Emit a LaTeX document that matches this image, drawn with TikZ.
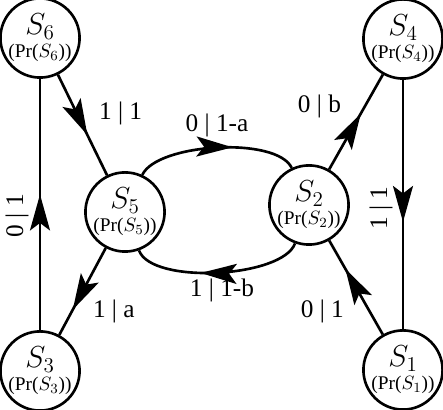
\documentclass[tikz,border=0pt]{standalone}
\usepackage{fontspec}
\setmainfont{Liberation Serif}
\usetikzlibrary{arrows.meta, decorations.markings}
\tikzset{
  state/.style={circle, draw, line width=1.5pt, minimum size=1.46cm,
    inner sep=0pt, align=center},
  trans/.style={line width=1.5pt, postaction={decorate},
    decoration={markings, mark=at position #1 with
      {\arrow{Stealth[length=0.72cm, width=0.4cm, inset=0.15cm]}}}},
  trans/.default=0.6,
  lbl/.style={font=\Large, inner sep=0pt}
}
\newcommand{\statetext}[1]{{\LARGE$S_{#1}$}\\[1pt]{\fontsize{11pt}{13pt}\selectfont(Pr($S_{#1}$))}}

\begin{document}
\begin{tikzpicture}
  \useasboundingbox (0,0) rectangle (8.86,8.2);
  % states
  \node[state] (s6) at (0.8,7.44) {\statetext{6}};
  \node[state] (s4) at (8.06,7.42) {\statetext{4}};
  \node[state] (s5) at (2.5,3.96) {\statetext{5}};
  \node[state] (s2) at (6.18,4.1) {\statetext{2}};
  \node[state] (s3) at (0.8,0.78) {\statetext{3}};
  \node[state] (s1) at (8.06,0.8) {\statetext{1}};
  % left side
  \draw[trans=0.6] (s6) -- node[lbl, pos=.39, xshift=0.87cm] {1 | 1} (s5);
  \draw[trans=0.71] (s5) -- node[lbl, pos=.73, xshift=0.84cm] {1 | a} (s3);
  \draw[trans=0.54] (s3) -- node[lbl, pos=.455, xshift=-0.46cm, rotate=90] {0 | 1} (s6);
  % middle loop
  \draw[trans=0.6] (s5) to[out=65, in=115, looseness=0.6]
    node[lbl, pos=.5, yshift=0.45cm] {0 | 1-a} (s2);
  \draw[trans=0.6] (s2) to[out=-110, in=-70, looseness=0.6]
    node[lbl, pos=.5, xshift=0.1cm, yshift=-0.36cm] {1 | 1-b} (s5);
  % right side
  \draw[trans=0.59] (s2) -- node[lbl, pos=.667, xshift=-0.91cm] {0 | b} (s4);
  \draw[trans=0.57] (s4) -- node[lbl, pos=.514, xshift=-0.44cm, rotate=90] {1 | 1} (s1);
  \draw[trans=0.7] (s1) -- node[lbl, pos=.25, xshift=-0.94cm] {0 | 1} (s2);
\end{tikzpicture}
\end{document}
